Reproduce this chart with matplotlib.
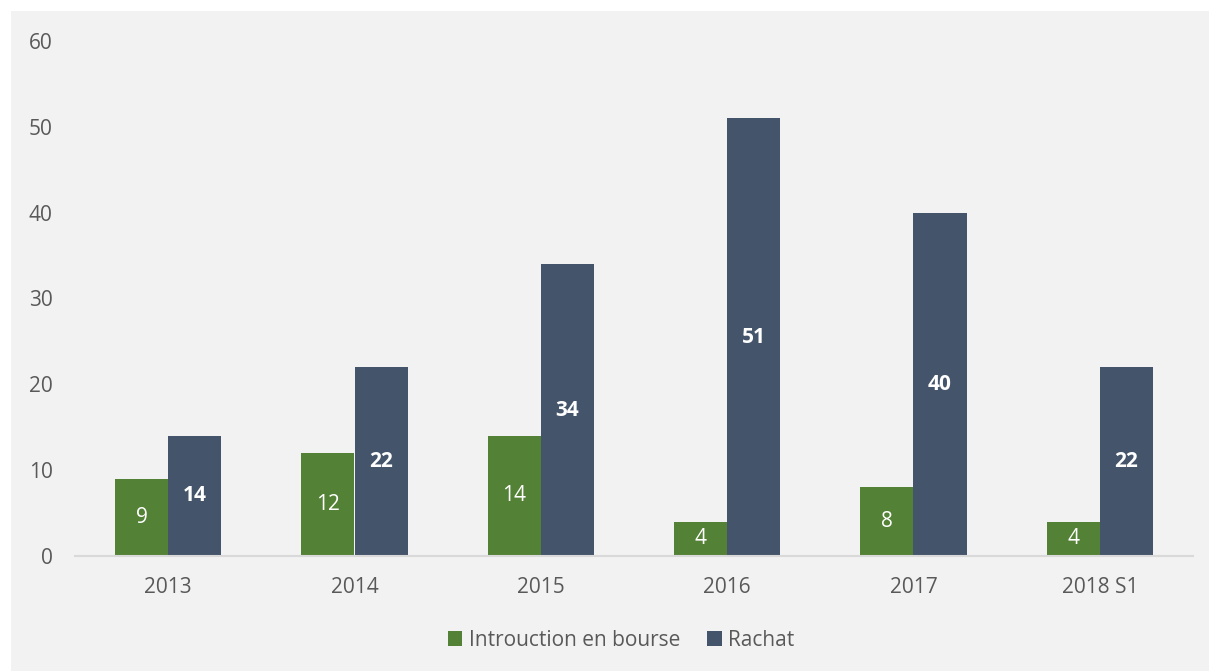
import numpy as np
import matplotlib
matplotlib.use("Agg")
import matplotlib.pyplot as plt
from matplotlib.patches import Rectangle

years = ["2013", "2014", "2015", "2016", "2017", "2018 S1"]
ipo = [9, 12, 14, 4, 8, 4]
rachat = [14, 22, 34, 51, 40, 22]

GREEN = "#538135"
BLUE = "#44546a"
BG = "#f2f2f2"
GREY_TXT = "#595959"

plt.rcParams["font.family"] = ["Open Sans", "DejaVu Sans"]


def main():
    fig = plt.figure(figsize=(12.09, 6.71), dpi=100)
    fig.patch.set_facecolor("white")
    # grey panel with a thin white margin at top and left
    fig.patches.append(Rectangle((11 / 1209, 0), 1, 1 - 11 / 671,
                                 transform=fig.transFigure,
                                 facecolor=BG, edgecolor="none", zorder=-10))

    ax = fig.add_axes([75 / 1209, 115 / 671, 1118 / 1209, 515 / 671])
    ax.set_facecolor("none")
    ax.set_zorder(1)

    x = np.arange(len(years))
    w = 0.285
    b1 = ax.bar(x - w / 2, ipo, w, color=GREEN, label="Introuction en bourse")
    b2 = ax.bar(x + w / 2, rachat, w, color=BLUE, label="Rachat")

    for rect, v in zip(b1, ipo):
        ax.text(rect.get_x() + rect.get_width() / 2, v / 2, str(v),
                ha="center", va="center", color="white", fontsize=15)
    for rect, v in zip(b2, rachat):
        ax.text(rect.get_x() + rect.get_width() / 2, v / 2, str(v),
                ha="center", va="center", color="white", fontsize=15,
                fontweight="bold")

    ax.set_xlim(-0.5, len(years) - 0.5)
    ax.set_ylim(0, 60)
    ax.set_yticks(range(0, 61, 10))
    ax.set_xticks(x)
    ax.set_xticklabels(years)
    ax.tick_params(axis="both", length=0, labelsize=15, labelcolor=GREY_TXT)
    ax.tick_params(axis="y", pad=16)
    ax.tick_params(axis="x", pad=15)

    for s in ["top", "right", "left"]:
        ax.spines[s].set_visible(False)
    ax.spines["bottom"].set_color("#d9d9d9")
    ax.spines["bottom"].set_linewidth(1.5)

    leg = fig.legend(loc="center", bbox_to_anchor=(621 / 1209, 31 / 671), ncol=2,
                     frameon=False, fontsize=15, handlelength=0.7,
                     handleheight=0.7, handletextpad=0.3, columnspacing=1.3)
    for t in leg.get_texts():
        t.set_color(GREY_TXT)

    fig.savefig("out.png", dpi=100, facecolor=fig.get_facecolor())


if __name__ == "__main__":
    main()
